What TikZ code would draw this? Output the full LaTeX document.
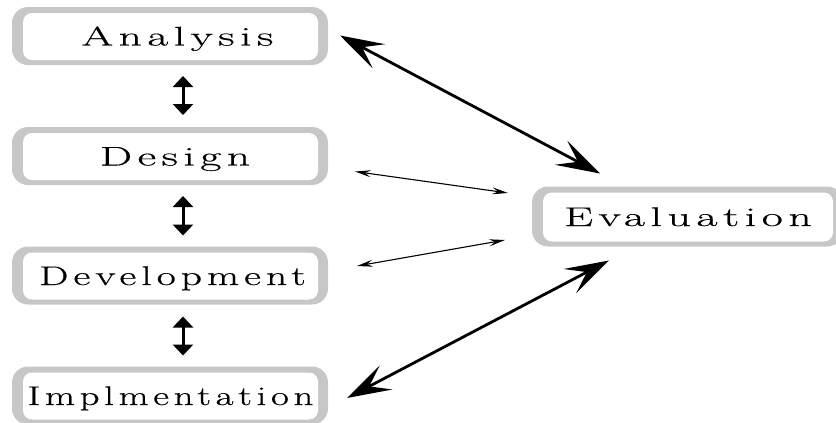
\documentclass[tikz,border=0pt]{standalone}
\usepackage{graphicx}
\usepackage{fontspec}
\setmainfont{Latin Modern Roman}
\usetikzlibrary{arrows.meta,calc,backgrounds}
\newcommand{\wtxt}[2]{\scalebox{#1}[1]{\addfontfeatures{LetterSpace=12,FakeBold=0.4}#2}}
\begin{document}
\begin{tikzpicture}[x=1pt,y=-1pt,
  box/.style={fill=white, rounded corners=9pt, outer sep=0pt,
    minimum width=295pt, minimum height=47pt, inner sep=0pt,
    text height=18pt, text depth=0pt,
    font=\fontsize{27}{30}\selectfont},
  frame/.style={fill=black!22, rounded corners=16pt},
  big/.style={line width=2.8pt,
    {Stealth[length=44pt,width=27pt,inset=19pt]}-{Stealth[length=44pt,width=27pt,inset=19pt]}},
  thin/.style={line width=1.1pt,
    {Stealth[length=16pt,width=7pt,inset=6pt]}-{Stealth[length=16pt,width=7pt,inset=6pt]}},
  vert/.style={line width=3pt,
    {Triangle[length=11pt,width=20pt]}-{Triangle[length=11pt,width=20pt]}}]
\useasboundingbox (0,0) rectangle (836,423);

\node[box] (ana) at (170.5,36.5) {\hspace*{14pt}\wtxt{1.69}{Analysis}};
\node[box] (des) at (170.5,156.5) {\hspace*{9pt}\wtxt{1.69}{Design}};
\node[box] (dev) at (170.5,276) {\hspace*{4pt}\wtxt{1.54}{Development}};
\node[box] (imp) at (170.5,396) {\wtxt{1.44}{Implmentation}};
\node[box, minimum width=290pt, minimum height=49pt] (eva) at (688,217) {\wtxt{1.70}{Evaluation}};

\begin{scope}[on background layer]
  \foreach \n in {ana,des,dev,imp,eva}
    \fill[frame] ($(\n.north west)+(-11,-6)$) rectangle ($(\n.south east)+(10,5)$);
\end{scope}

% arrow end points
\coordinate (a1) at ($(ana.east)+(22,-1)$);
\coordinate (e1) at ($(eva.north west)+(57,-19)$);
\coordinate (d1) at ($(des.east)+(37,15)$);
\coordinate (e2) at ($(eva.west)+(-35,-24)$);
\coordinate (v1) at ($(dev.east)+(39,-10)$);
\coordinate (e3) at ($(eva.west)+(-38,23)$);
\coordinate (i1) at ($(imp.east)+(29,2)$);
\coordinate (e4) at ($(eva.south west)+(66,19)$);

\coordinate (as) at ($(ana.south)+(12.5,16)$);
\coordinate (dn) at ($(des.north)+(12.5,-18)$);
\coordinate (ds) at ($(des.south)+(12.5,16)$);
\coordinate (vn) at ($(dev.north)+(12.5,-17)$);
\coordinate (vs) at ($(dev.south)+(12.5,17)$);
\coordinate (in) at ($(imp.north)+(12.5,-17)$);

\draw[big] (a1) -- (e1);
\draw[thin] (d1) -- (e2);
\draw[thin] (v1) -- (e3);
\draw[big] (i1) -- (e4);

\draw[vert] (as) -- (dn);
\draw[vert] (ds) -- (vn);
\draw[vert] (vs) -- (in);
\end{tikzpicture}
\end{document}
